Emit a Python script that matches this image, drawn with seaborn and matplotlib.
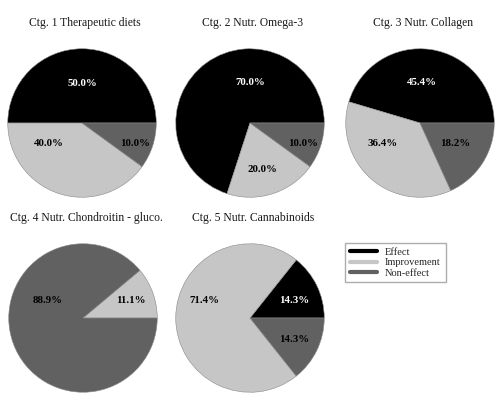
import matplotlib
matplotlib.use("Agg")
import matplotlib.pyplot as plt
from matplotlib.lines import Line2D
import seaborn as sns

sns.set_theme(style="white")
plt.rcParams['font.family'] = ['Liberation Serif', 'DejaVu Serif']

# data
categories = ["Effect", "Improvement", "Non-effect"]
titles = [
    "Ctg. 1 Therapeutic diets",
    "Ctg. 2 Nutr. Omega-3",
    "Ctg. 3 Nutr. Collagen",
    "Ctg. 4 Nutr. Chondroitin - gluco.",
    "Ctg. 5 Nutr. Cannabinoids",
]
ctg1 = [50.0, 40.0, 10.0]
ctg2 = [70.0, 20.0, 10.0]
ctg3 = [45.4, 36.4, 18.2]
ctg4 = [0.0, 11.1, 88.9]
ctg5 = [14.3, 71.4, 14.3]
series = [ctg1, ctg2, ctg3, ctg4, ctg5]

colors = ["#000000", "#c6c6c6", "#616161"]
text_colors = ["white", "black", "black"]

# layout (pixels): pie centres, radius 75
W, H = 503, 400
R = 75
centres = [(82, 123), (250, 123), (420, 123), (83, 318), (250, 318)]
# label placement in radius units (Excel-like best fit)
label_pos = [
    [(0.0, 0.53), (-0.45, -0.27), (0.72, -0.27)],
    [(0.0, 0.55), (0.17, -0.63), (0.71, -0.27)],
    [(0.03, 0.55), (-0.51, -0.27), (0.48, -0.27)],
    [None, (0.65, 0.24), (-0.48, 0.24)],
    [(0.6, 0.24), (-0.61, 0.24), (0.6, -0.29)],
]

fig = plt.figure(figsize=(W / 100, H / 100), dpi=100)

for i, (vals, title) in enumerate(zip(series, titles)):
    cx, cy = centres[i]
    ax = fig.add_axes([(cx - R) / W, 1 - (cy + R) / H, 2 * R / W, 2 * R / H])
    keep = [j for j, v in enumerate(vals) if v > 0]
    wedges, _ = ax.pie([vals[j] for j in keep], colors=[colors[j] for j in keep],
                       startangle=0, counterclock=True, radius=1,
                       wedgeprops=dict(edgecolor="#8a8a8a", linewidth=0.4))
    for j in keep:
        dx, dy = label_pos[i][j]
        ax.text(dx, dy, f"{vals[j]:.1f}%", ha="center", va="center",
                fontsize=7.8, fontweight="bold", color=text_colors[j])
    ax.set_xlim(-1.01, 1.01)
    ax.set_ylim(-1.01, 1.01)
    ax.set_aspect("equal")
    ax.axis("off")
    fig.text((cx + 3) / W, 1 - (cy - 100) / H, title, ha="center", va="center",
             fontsize=8.4, color="#1a1a1a")

handles = [Line2D([0], [0], color=c, lw=3) for c in colors]
fig.legend(handles, categories, loc="upper left",
           bbox_to_anchor=(345 / W, 1 - 243 / H), fontsize=7.5,
           frameon=True, fancybox=False, edgecolor="#999999",
           handlelength=2.6, handletextpad=0.8, labelspacing=0.1,
           borderpad=0.45, borderaxespad=0)

fig.savefig("out.png", dpi=100)
